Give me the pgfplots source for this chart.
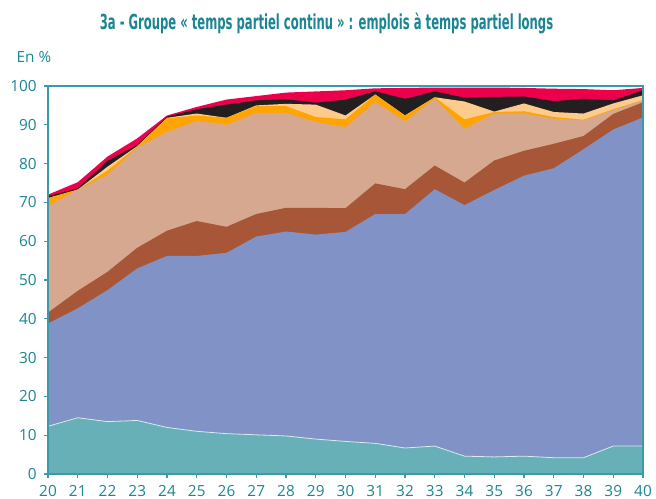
\documentclass[border=0pt]{standalone}
\usepackage{pgfplots}
\usepackage{pgfplotstable}
\usepackage{graphicx}
\usepackage{fontspec}
\pgfplotsset{compat=1.18}
\setmainfont{Open Sans}
\newfontfamily\titlefont{DejaVu Sans Condensed}
\definecolor{cteal}{HTML}{67B0B8}
\definecolor{cblue}{HTML}{8192C7}
\definecolor{cbrown}{HTML}{A75637}
\definecolor{ctan}{HTML}{D6A890}
\definecolor{corange}{HTML}{FFA400}
\definecolor{cpeach}{HTML}{FFCB8C}
\definecolor{cblack}{HTML}{231F20}
\definecolor{cred}{HTML}{EC004C}
\definecolor{caxis}{HTML}{3A9CA8}
\definecolor{ctext}{HTML}{1B8591}
\pgfplotstableread{
x t1 t2 t3 t4 t5 t6 t7 t8
20 12.3 38.8 41.6 69.1 71.1 71.1 71.6 72.0
21 14.5 42.7 47.2 73.3 73.3 73.3 73.6 75.2
22 13.5 47.4 52.1 77.1 78.2 79.2 80.7 81.8
23 13.8 53.0 58.3 84.1 84.4 84.5 84.8 86.5
24 12.0 56.2 62.7 88.2 91.7 91.8 92.1 92.4
25 11.0 56.2 65.2 91.0 92.4 92.9 94.0 94.6
26 10.4 57.0 63.7 90.0 91.8 91.8 95.2 96.5
27 10.1 61.2 67.0 93.1 94.8 95.0 96.3 97.4
28 9.8 62.5 68.6 93.1 94.8 95.4 96.6 98.3
29 9.0 61.7 68.6 90.7 92.0 95.2 95.7 98.6
30 8.4 62.4 68.5 89.4 91.4 92.4 96.5 98.9
31 7.9 67.0 74.9 95.9 97.8 97.8 98.6 99.4
32 6.7 67.0 73.4 90.9 92.4 92.4 96.7 99.5
33 7.2 73.4 79.5 96.7 97.1 97.1 98.6 99.6
34 4.6 69.3 75.1 89.0 91.4 96.0 97.0 99.6
35 4.4 73.2 80.8 92.9 93.3 93.4 97.2 99.6
36 4.6 76.9 83.3 92.9 93.5 95.5 97.3 99.5
37 4.2 78.8 85.1 91.6 92.0 93.3 96.1 99.3
38 4.2 83.7 87.1 91.1 91.3 92.9 96.7 99.2
39 7.2 88.8 92.8 93.8 94.0 95.5 96.3 98.9
40 7.2 91.9 95.8 96.3 96.4 97.6 98.9 99.5
}\data
\begin{document}
\begin{tikzpicture}
\path[use as bounding box] (-36pt,-18.75pt) rectangle (456pt,355.5pt);
\begin{axis}[
  at={(0,0)}, anchor=south west,
  scale only axis, width=446.25pt, height=291pt,
  xmin=20, xmax=40, ymin=0, ymax=100,
  xtick={20,21,...,40}, ytick={0,10,...,100},
  tick pos=left, tick align=outside,
  major tick length=3pt,
  axis line style={caxis, line width=0.8pt},
  tick style={caxis, line width=0.8pt},
  axis on top=true,
  /pgf/number format/assume math mode=true,
  ticklabel style={font=\fontsize{11.5}{13}\selectfont, text=ctext},
  yticklabel style={xshift=-2pt},
  xticklabel style={yshift=-2pt},
]
\addplot[fill=cred, draw=none] table[x=x,y=t8]{\data} \closedcycle;
\addplot[fill=cblack, draw=none] table[x=x,y=t7]{\data} \closedcycle;
\addplot[fill=cpeach, draw=none] table[x=x,y=t6]{\data} \closedcycle;
\addplot[fill=corange, draw=none] table[x=x,y=t5]{\data} \closedcycle;
\addplot[fill=ctan, draw=none] table[x=x,y=t4]{\data} \closedcycle;
\addplot[fill=cbrown, draw=none] table[x=x,y=t3]{\data} \closedcycle;
\addplot[fill=cblue, draw=none] table[x=x,y=t2]{\data} \closedcycle;
\addplot[fill=cteal, draw=none] table[x=x,y=t1]{\data} \closedcycle;
\addplot[draw=white!75!cteal, line width=0.6pt] table[x=x,y=t1]{\data};
\end{axis}
\node[text=ctext, anchor=west, font=\fontsize{11.5}{13}\selectfont] at (-27pt,312.75pt) {En \%};
\node[text=ctext, inner sep=0pt, anchor=base] at (208.9pt,333.5pt) {\resizebox{340pt}{\height}{\titlefont\bfseries\fontsize{15.5}{17}\selectfont 3a - Groupe « temps partiel continu » : emplois à temps partiel longs}};
\end{tikzpicture}
\end{document}
